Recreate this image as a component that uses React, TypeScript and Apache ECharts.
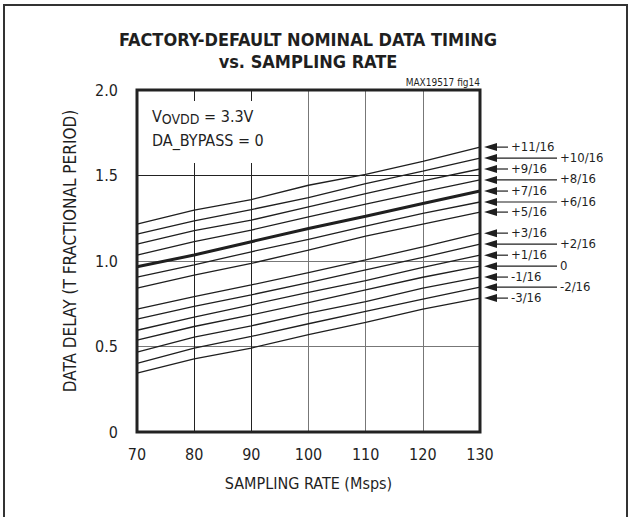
import React, { useEffect, useRef } from "react";
import * as echarts from "echarts";

const FONT = "'Liberation Sans Narrow', 'DejaVu Sans Condensed', 'Roboto', sans-serif";
const INK = "#1f1f1f";

const samplingRate = [70, 80, 90, 100, 110, 120, 130];
const xTicks = [70, 80, 90, 100, 110, 120, 130];
const yTicks = ["0", "0.5", "1.0", "1.5", "2.0"];

const delayP11 = [1.216, 1.297, 1.359, 1.443, 1.507, 1.583, 1.666];
const delayP10 = [1.157, 1.235, 1.301, 1.371, 1.452, 1.526, 1.602];
const delayP9 = [1.099, 1.177, 1.239, 1.317, 1.394, 1.468, 1.538];
const delayP8 = [1.034, 1.113, 1.181, 1.258, 1.332, 1.404, 1.474];
const delayP7 = [0.966, 1.035, 1.113, 1.19, 1.262, 1.336, 1.409];
const delayP6 = [0.906, 0.977, 1.054, 1.126, 1.204, 1.278, 1.345];
const delayP5 = [0.841, 0.918, 0.986, 1.064, 1.146, 1.216, 1.286];
const delayP3 = [0.718, 0.792, 0.86, 0.932, 1.006, 1.083, 1.163];
const delayP2 = [0.66, 0.734, 0.802, 0.874, 0.948, 1.021, 1.099];
const delayP1 = [0.595, 0.672, 0.744, 0.816, 0.885, 0.963, 1.034];
const delay0 = [0.537, 0.617, 0.685, 0.757, 0.831, 0.905, 0.97];
const delayM1 = [0.467, 0.555, 0.621, 0.695, 0.763, 0.841, 0.906];
const delayM2 = [0.402, 0.491, 0.559, 0.633, 0.705, 0.777, 0.847];
const delayM3 = [0.344, 0.427, 0.491, 0.569, 0.641, 0.718, 0.783];

const curveLabels = ["+11/16", "+10/16", "+9/16", "+8/16", "+7/16", "+6/16", "+5/16", "+3/16", "+2/16", "+1/16", "0", "-1/16", "-2/16", "-3/16"];
const curveData = [delayP11, delayP10, delayP9, delayP8, delayP7, delayP6, delayP5, delayP3, delayP2, delayP1, delay0, delayM1, delayM2, delayM3];
const longLeader = [false, true, false, true, false, true, false, false, true, false, true, false, true, false];
const boldCurve = "+7/16";

export default function App() {
  const ref = useRef<HTMLDivElement>(null);
  useEffect(() => {
    if (!ref.current) return;
    const chart = echarts.init(ref.current, null, { renderer: "svg" });
    const series = curveLabels.map((name, i) => ({
      name,
      type: "line",
      data: samplingRate.map((x, j) => [x, curveData[i][j]]),
      showSymbol: false,
      symbol: "none",
      lineStyle: { color: INK, width: name === boldCurve ? 3 : 1.3 },
      z: 3,
    }));
    const base: any = {
      animation: false,
      backgroundColor: "#fff",
      grid: {
        left: 137,
        top: 90,
        right: 151,
        bottom: 85,
        show: true,
        borderColor: "#222",
        borderWidth: 3,
        backgroundColor: "transparent",
        z: 4,
      },
      xAxis: {
        type: "value",
        min: 70,
        max: 130,
        interval: 10,
        name: "SAMPLING RATE (Msps)",
        nameLocation: "middle",
        nameGap: 43,
        nameTextStyle: { fontFamily: FONT, fontSize: 16, color: INK },
        axisLine: { show: false },
        axisTick: { show: false },
        axisLabel: {
          margin: 14,
          fontFamily: FONT,
          fontSize: 16,
          color: INK,
          formatter: (v: number) => (xTicks.includes(v) ? String(v) : ""),
        },
        splitLine: {
          show: true,
          lineStyle: { color: ["#222", "#222", "#222", "#777", "#777", "#777", "#777"], width: 1 },
        },
      },
      yAxis: {
        type: "value",
        min: 0,
        max: 2,
        interval: 0.5,
        axisLine: { show: false },
        axisTick: { show: false },
        axisLabel: {
          margin: 19,
          fontFamily: FONT,
          fontSize: 16,
          color: INK,
          formatter: (v: number) => yTicks[Math.round(v / 0.5)] ?? "",
        },
        splitLine: {
          show: true,
          lineStyle: { color: ["#222", "#777", "#777", "#222", "#222"], width: 1 },
        },
      },
      series,
    };
    chart.setOption(base);

    const graphics: any[] = [
      {
        type: "rect",
        shape: { x: 4, y: 5, width: 623, height: 560 },
        style: { fill: "none", stroke: "#333", lineWidth: 2 },
        z: 1,
        silent: true,
      },
      {
        type: "text",
        x: 70,
        y: 251,
        rotation: Math.PI / 2,
        style: {
          text: "DATA DELAY (T FRACTIONAL PERIOD)",
          font: `17px ${FONT}`,
          fill: INK,
          align: "center",
          verticalAlign: "middle",
        },
        z: 10,
      },
      {
        type: "text",
        x: 308,
        y: 39,
        style: {
          text: "FACTORY-DEFAULT NOMINAL DATA TIMING",
          font: `bold 18px ${FONT}`,
          fill: INK,
          align: "center",
          verticalAlign: "middle",
        },
        z: 10,
      },
      {
        type: "text",
        x: 308,
        y: 61,
        style: {
          text: "vs. SAMPLING RATE",
          font: `bold 18px ${FONT}`,
          fill: INK,
          align: "center",
          verticalAlign: "middle",
        },
        z: 10,
      },
      {
        type: "text",
        x: 480,
        y: 82,
        style: {
          text: "MAX19517 fig14",
          font: `10px ${FONT}`,
          fill: INK,
          align: "right",
          verticalAlign: "middle",
        },
        z: 10,
      },
      {
        type: "rect",
        shape: { x: 139, y: 101, width: 150, height: 62 },
        style: { fill: "#fff" },
        z: 10,
        silent: true,
      },
      {
        type: "text",
        x: 152,
        y: 116,
        style: {
          text: "V{sub|OVDD} = 3.3V",
          font: `16px ${FONT}`,
          fill: INK,
          align: "left",
          verticalAlign: "middle",
          rich: {
            sub: { fontFamily: FONT, fontSize: 14, fill: INK, padding: [6, 0, 0, 0] },
          },
        },
        z: 11,
      },
      {
        type: "text",
        x: 152,
        y: 140,
        style: {
          text: "DA_BYPASS = 0",
          font: `16px ${FONT}`,
          fill: INK,
          align: "left",
          verticalAlign: "middle",
        },
        z: 11,
      },
    ];

    curveLabels.forEach((label, i) => {
      const last = curveData[i][curveData[i].length - 1];
      const p = chart.convertToPixel({ xAxisIndex: 0, yAxisIndex: 0 }, [samplingRate[samplingRate.length - 1], last]) as number[];
      const x = p[0];
      const y = p[1];
      const lineEnd = longLeader[i] ? x + 77 : x + 28;
      graphics.push({
        type: "polygon",
        shape: { points: [[x + 4, y], [x + 17, y - 4], [x + 17, y + 4]] },
        style: { fill: INK },
        z: 10,
      });
      graphics.push({
        type: "line",
        shape: { x1: x + 16, y1: y, x2: lineEnd, y2: y },
        style: { stroke: INK, lineWidth: 1.2 },
        z: 10,
      });
      graphics.push({
        type: "text",
        x: lineEnd + 3,
        y: y - 1,
        style: {
          text: label,
          font: `13px ${FONT}`,
          fill: INK,
          align: "left",
          verticalAlign: "middle",
        },
        z: 10,
      });
    });

    chart.setOption({ graphic: graphics });
    return () => chart.dispose();
  }, []);
  return (
    <div
      ref={ref}
      style={{ position: "fixed", left: 0, top: 0, width: 631, height: 517 }}
    />
  );
}
